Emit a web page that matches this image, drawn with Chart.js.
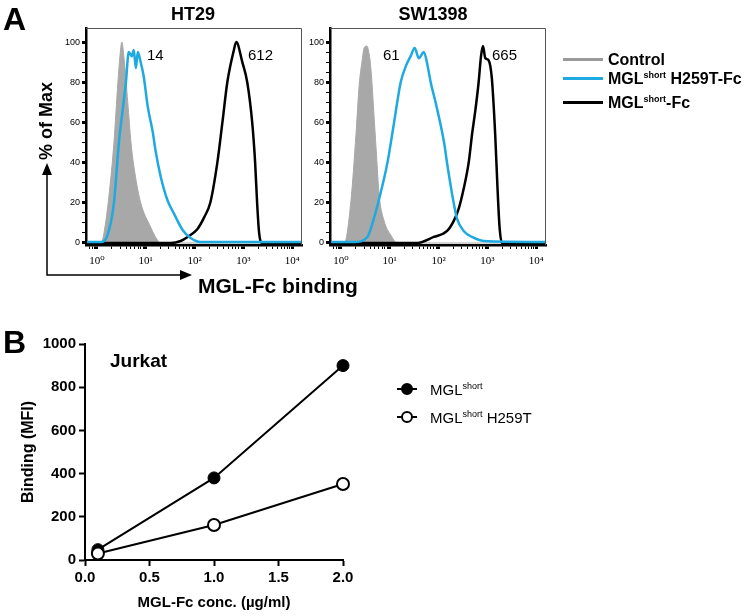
<!DOCTYPE html>
<html>
<head>
<meta charset="utf-8">
<script src="https://cdn.jsdelivr.net/npm/chart.js@4.4.0/dist/chart.umd.min.js"></script>
<style>
body { margin: 0; background: #fff; font-family: 'Liberation Sans', Arial, sans-serif; }
#wrap { position: relative; width: 745px; height: 616px; overflow: hidden; }
canvas, .t, .ln, .mk, svg { position: absolute; }
.t { white-space: nowrap; color: #000; line-height: 1; }
.b { font-weight: bold; }
.t sup { font-size: 9px; vertical-align: 6px; line-height: 0; }
.ln { height: 3px; width: 40px; left: 563px; }
.mk { width: 8px; height: 8px; border: 2px solid #000; border-radius: 50%; }
</style>
</head>
<body>
<div id="wrap">
  <canvas id="ht29" width="310" height="285" style="left:0;top:0"></canvas>
  <canvas id="sw1398" width="250" height="285" style="left:300px;top:0"></canvas>
  <canvas id="jurkat" width="370" height="296" style="left:0;top:320px"></canvas>

  <div class="t b" style="left:3px;top:3px;font-size:32px">A</div>
  <div class="t b" style="left:3px;top:326px;font-size:32px">B</div>
  <div class="t b" style="left:143px;top:5px;width:100px;text-align:center;font-size:18px">HT29</div>
  <div class="t b" style="left:383px;top:5px;width:100px;text-align:center;font-size:18px">SW1398</div>

  <div class="t" style="left:147px;top:47px;font-size:15px">14</div>
  <div class="t" style="left:248px;top:47px;font-size:15px">612</div>
  <div class="t" style="left:383px;top:47px;font-size:15px">61</div>
  <div class="t" style="left:492px;top:47px;font-size:15px">665</div>

  <div class="t b" style="left:46px;top:121px;font-size:18px;transform:translate(-50%,-50%) rotate(-90deg)">% of Max</div>
  <div class="t b" style="left:198px;top:275px;font-size:21px">MGL-Fc binding</div>
  <svg width="745" height="616" style="left:0;top:0">
    <polyline points="47,172 47,275 182,275" fill="none" stroke="#000" stroke-width="1.5"/>
    <polygon points="47,163 42,175 52,175" fill="#000"/>
    <polygon points="192,275 180,270 180,280" fill="#000"/>
  </svg>

  <div class="ln" style="top:58px;background:#9a9a9a"></div>
  <div class="ln" style="top:77px;background:#1fa9e1"></div>
  <div class="ln" style="top:101px;background:#000"></div>
  <div class="t b" style="left:608px;top:52px;font-size:16px">Control</div>
  <div class="t b" style="left:608px;top:71px;font-size:16px">MGL<sup>short</sup> H259T-Fc</div>
  <div class="t b" style="left:608px;top:95px;font-size:16px">MGL<sup>short</sup>-Fc</div>

  <div class="t b" style="left:110px;top:351px;font-size:19px">Jurkat</div>
  <div class="ln" style="left:397px;top:388px;width:20px;height:2px;background:#000"></div>
  <div class="mk" style="left:401px;top:383px;background:#000"></div>
  <div class="ln" style="left:397px;top:416px;width:20px;height:2px;background:#000"></div>
  <div class="mk" style="left:401px;top:411px;background:#fff"></div>
  <div class="t" style="left:430px;top:382px;font-size:15px">MGL<sup>short</sup></div>
  <div class="t" style="left:430px;top:410px;font-size:15px">MGL<sup>short</sup> H259T</div>
</div>
<script>
// flow histograms, x = fluorescence (log), y = % of max
var ht29ControlX = [0.63, 1.22, 1.4, 1.8, 2.24, 2.7, 3.0, 3.25, 3.6, 4.3, 5.0, 6.0, 7.9, 12.6, 16.8, 20.3, 15849];
var ht29ControlY = [0, 0, 5, 25, 50, 80, 94, 100, 92, 70, 50, 35, 20, 8, 2, 0, 0];
var ht29MutantX = [0.63, 1.22, 1.6, 2.24, 2.83, 3.94, 4.5, 5.2, 5.7, 6.3, 6.9, 7.9, 9.1, 11.0, 14.0, 15.9, 20.3, 28.2, 37.3, 57, 83, 133, 15849];
var ht29MutantY = [0.5, 0.5, 3, 20, 50, 80, 95, 93, 96, 87, 95, 90, 83, 68, 55, 46, 33, 21, 15, 6.5, 2.5, 0.5, 0.5];
var ht29WildX = [0.63, 32.6, 52, 72, 115, 159, 210, 293, 372, 469, 625, 716, 951, 1200, 1515, 1740, 1910, 2100, 2430, 15849];
var ht29WildY = [0, 0, 1, 3, 7, 13, 20, 40, 60, 80, 95, 100, 90, 80, 60, 40, 20, 5, 0, 0];

var swControlX = [0.63, 1.18, 1.61, 2.04, 2.38, 2.7, 3.0, 3.42, 3.8, 4.12, 4.82, 5.46, 6.08, 7.7, 10.5, 14.4, 15849];
var swControlY = [0, 0, 21, 54, 79, 90, 97, 98, 94, 87, 62, 41, 24, 11, 4, 0, 0];
var swMutantX = [0.63, 1.88, 3.5, 4.47, 5.8, 9.0, 12.3, 16.8, 21.4, 26.9, 32.4, 39.6, 50, 60, 69, 87, 132, 149, 204, 240, 327, 485, 835, 15849];
var swMutantY = [0.5, 0.5, 3, 10, 20, 40, 60, 80, 88, 93, 97, 92, 95, 88, 80, 70, 49, 40, 20, 12, 6, 3, 1, 0.5];
var swWildX = [0.63, 36.8, 80, 150, 205, 258, 327, 414, 485, 567, 662, 741, 813, 906, 1057, 1233, 1445, 1614, 1774, 1983, 15849];
var swWildY = [0, 0, 3, 6, 11, 17, 27, 40, 54, 66, 80, 93, 98, 92, 91, 82, 54, 27, 8, 0, 0];

var decadeTicks = [1, 10, 100, 1000, 10000];
var decadeLabels = ['10⁰', '10¹', '10²', '10³', '10⁴'];
var pctTicks = [0, 20, 40, 60, 80, 100];

// Jurkat binding curve
var concX = [0.1, 1.0, 2.0];
var mglShort = [48, 380, 900];
var mglShortH259T = [30, 162, 352];
var concTicks = [0, 0.5, 1, 1.5, 2];
var mfiTicks = [0, 200, 400, 600, 800, 1000];

Chart.defaults.font.family = "'Liberation Sans', Arial, sans-serif";
Chart.defaults.color = '#000';

var BLUE = '#1fa9e1';

function pts(xs, ys) {
    return xs.map(function (x, i) { return { x: x, y: ys[i] }; });
}

var minorLog = [];
[0.1, 1, 10, 100, 1000].forEach(function (d) {
    for (var m = 2; m <= 9; m++) {
        if (m * d > 0.631 && m * d < 15849) minorLog.push(m * d);
    }
});

var frame = {
    id: 'frame',
    afterDraw: function (chart) {
        var a = chart.chartArea, c = chart.ctx;
        c.save();
        c.strokeStyle = '#555';
        c.lineWidth = 1;
        c.beginPath();
        c.moveTo(a.left, a.top + 0.5);
        c.lineTo(a.right - 0.5, a.top + 0.5);
        c.lineTo(a.right - 0.5, a.bottom);
        c.stroke();
        c.restore();
    }
};

function makeHist(id, ctrlX, ctrlY, mutX, mutY, wtX, wtY, yWidth, rightPad) {
    new Chart(document.getElementById(id), {
        type: 'line',
        data: {
            datasets: [{
                data: pts(mutX, mutY),
                borderColor: BLUE,
                borderWidth: 2.5
            }, {
                data: pts(wtX, wtY),
                borderColor: '#000',
                borderWidth: 2.5
            }, {
                data: pts(ctrlX, ctrlY),
                borderColor: '#a8a8a8',
                backgroundColor: '#a8a8a8',
                borderWidth: 1,
                fill: 'origin'
            }]
        },
        options: {
            responsive: false,
            animation: false,
            layout: { padding: { top: 28, right: rightPad, left: 0, bottom: 0 } },
            plugins: { legend: { display: false }, tooltip: { enabled: false } },
            elements: {
                point: { radius: 0 },
                line: { cubicInterpolationMode: 'monotone' }
            },
            scales: {
                x: {
                    type: 'logarithmic',
                    min: 0.631,
                    max: 15849,
                    afterBuildTicks: function (s) {
                        s.ticks = decadeTicks.concat(minorLog).sort(function (a, b) { return a - b; })
                            .map(function (v) { return { value: v }; });
                    },
                    afterFit: function (s) { s.height = 40; },
                    ticks: {
                        autoSkip: false,
                        maxRotation: 0,
                        padding: 6,
                        font: { family: "'Liberation Serif', 'DejaVu Serif', serif", size: 11 },
                        callback: function (v) {
                            var i = decadeTicks.indexOf(v);
                            return i >= 0 ? decadeLabels[i] : '';
                        }
                    },
                    grid: {
                        drawOnChartArea: false,
                        tickLength: 4,
                        tickColor: '#000',
                        tickWidth: function (c) {
                            return c.tick && decadeTicks.indexOf(c.tick.value) >= 0 ? 3 : 1;
                        }
                    },
                    border: { color: '#000', width: 2.5 }
                },
                y: {
                    min: -1,
                    max: 107,
                    afterBuildTicks: function (s) {
                        var t = [];
                        for (var v = 0; v <= 100; v += 5) t.push({ value: v });
                        s.ticks = t;
                    },
                    afterFit: function (s) { s.width = yWidth; },
                    ticks: {
                        autoSkip: false,
                        padding: 2,
                        font: { size: 9 },
                        callback: function (v) { return pctTicks.indexOf(v) >= 0 ? String(v) : ''; }
                    },
                    grid: {
                        drawOnChartArea: false,
                        tickLength: 4,
                        tickColor: '#000',
                        tickWidth: function (c) {
                            return c.tick && pctTicks.indexOf(c.tick.value) >= 0 ? 3 : 1;
                        }
                    },
                    border: { color: '#000', width: 2.5 }
                }
            }
        },
        plugins: [frame]
    });
}

makeHist('ht29', ht29ControlX, ht29ControlY, ht29MutantX, ht29MutantY, ht29WildX, ht29WildY, 86, 8);
makeHist('sw1398', swControlX, swControlY, swMutantX, swMutantY, swWildX, swWildY, 30, 4);

new Chart(document.getElementById('jurkat'), {
    type: 'line',
    data: {
        datasets: [{
            label: 'MGLshort H259T',
            data: pts(concX, mglShortH259T),
            borderColor: '#000',
            borderWidth: 2,
            pointRadius: 6,
            pointBackgroundColor: '#fff',
            pointBorderColor: '#000',
            pointBorderWidth: 2,
            clip: false
        }, {
            label: 'MGLshort',
            data: pts(concX, mglShort),
            borderColor: '#000',
            borderWidth: 2,
            pointRadius: 6,
            pointBackgroundColor: '#000',
            pointBorderColor: '#000',
            pointBorderWidth: 1,
            clip: false
        }]
    },
    options: {
        responsive: false,
        animation: false,
        layout: { padding: { top: 24, right: 27, left: 0, bottom: 0 } },
        plugins: { legend: { display: false }, tooltip: { enabled: false } },
        scales: {
            x: {
                type: 'linear',
                min: 0,
                max: 2,
                afterBuildTicks: function (s) { s.ticks = concTicks.map(function (v) { return { value: v }; }); },
                afterFit: function (s) { s.height = 56; },
                ticks: {
                    padding: 3,
                    font: { size: 15, weight: 'bold' },
                    callback: function (v) { return v.toFixed(1); }
                },
                grid: { drawOnChartArea: false, tickLength: 6, tickWidth: 2, tickColor: '#000' },
                border: { color: '#000', width: 2 },
                title: {
                    display: true,
                    text: 'MGL-Fc conc. (µg/ml)',
                    font: { size: 15, weight: 'bold' },
                    padding: { top: 0, bottom: 4 }
                }
            },
            y: {
                min: 0,
                max: 1000,
                afterBuildTicks: function (s) { s.ticks = mfiTicks.map(function (v) { return { value: v }; }); },
                afterFit: function (s) { s.width = 85; },
                ticks: {
                    padding: 3,
                    font: { size: 15, weight: 'bold' },
                    callback: function (v) { return String(v); }
                },
                grid: { drawOnChartArea: false, tickLength: 6, tickWidth: 2, tickColor: '#000' },
                border: { color: '#000', width: 2 },
                title: {
                    display: true,
                    text: 'Binding (MFI)',
                    font: { size: 16, weight: 'bold' },
                    padding: { top: 19, bottom: 0 }
                }
            }
        }
    }
});
</script>
</body>
</html>
